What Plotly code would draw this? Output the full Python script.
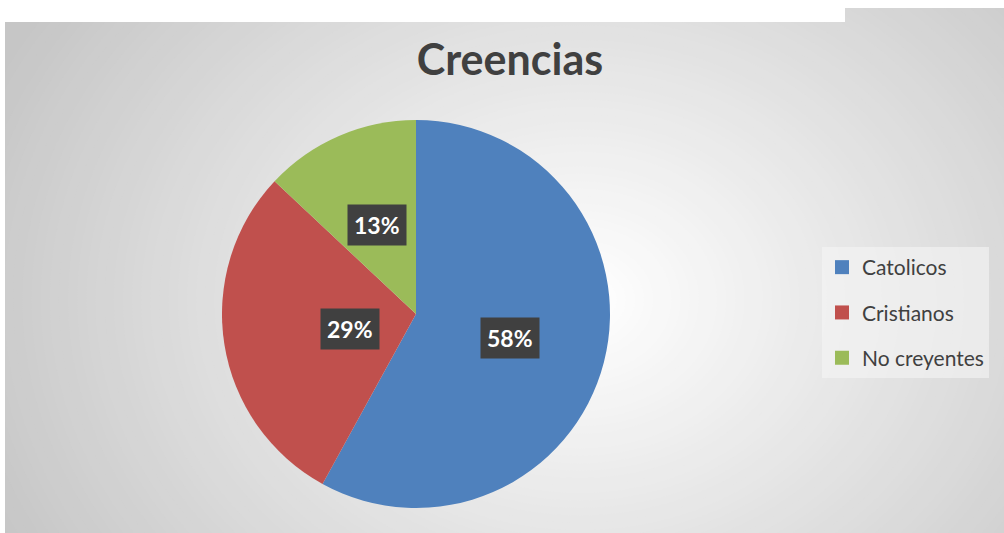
import math
import plotly.graph_objects as go

labels = ["Catolicos", "Cristianos", "No creyentes"]
values = [58, 29, 13]
colors = ["#4F81BD", "#C0504D", "#9BBB59"]

W, H = 1004, 533
# pie placement in pixels
cx_px, cy_px, r_px = 416, 314, 194

fig = go.Figure()

fig.add_trace(go.Pie(
    labels=labels, values=values, sort=False, direction="clockwise", rotation=0,
    marker=dict(colors=colors, line=dict(width=0)),
    textinfo="none", hoverinfo="label+percent", showlegend=False,
    domain=dict(x=[(cx_px - r_px) / W, (cx_px + r_px) / W],
                y=[(H - cy_px - r_px) / H, (H - cy_px + r_px) / H])
))

# legend entries drawn as square markers so spacing can match
for lab, col in zip(labels, colors):
    fig.add_trace(go.Scatter(x=[None], y=[None], mode="markers", name=lab,
                             legendgroup=lab,
                             marker=dict(symbol="square", size=14, color=col)))

# percentage labels in dark boxes, placed at the middle of each slice
total = sum(values)
cum = 0
anns = []
for v in values:
    mid = (cum + v / 2) / total * 2 * math.pi
    cum += v
    px = cx_px + 0.5 * r_px * math.sin(mid)
    py = cy_px - 0.5 * r_px * math.cos(mid)
    anns.append(dict(x=px / W, y=(H - py) / H, xref="paper", yref="paper",
                     text="<b>%d%%</b>" % round(v / total * 100), showarrow=False,
                     font=dict(family="Lato", size=23, color="white"),
                     bgcolor="#404040", borderpad=6))

# radial gradient background
shapes = [dict(type="rect", xref="paper", yref="paper", x0=5 / W, x1=1, y0=0, y1=(H - 22) / H,
               fillcolor="#c6c6c6", line=dict(width=0), layer="below"),
          dict(type="rect", xref="paper", yref="paper", x0=845 / W, x1=1, y0=(H - 22) / H, y1=(H - 8) / H,
               fillcolor="#c6c6c6", line=dict(width=0), layer="below")]
gx, gy = 580, 300
steps = 70
for i in range(steps):
    f = 1 - i / steps
    rx, ry = 640 * f, 520 * f
    g = int(round(198 + (255 - 198) * (i + 1) / steps))
    shapes.append(dict(type="circle", xref="paper", yref="paper",
                       x0=(gx - rx) / W, x1=(gx + rx) / W,
                       y0=(H - gy - ry) / H, y1=(H - gy + ry) / H,
                       fillcolor="rgb(%d,%d,%d)" % (g, g, g), line=dict(width=0), layer="below"))
# white strips outside the chart area
shapes.append(dict(type="rect", xref="paper", yref="paper", x0=-0.1, x1=5 / W, y0=-0.1, y1=1.1,
                   fillcolor="white", line=dict(width=0), layer="below"))
shapes.append(dict(type="rect", xref="paper", yref="paper", x0=-0.1, x1=845 / W, y0=(H - 22) / H, y1=1.1,
                   fillcolor="white", line=dict(width=0), layer="below"))
shapes.append(dict(type="rect", xref="paper", yref="paper", x0=845 / W, x1=1.1, y0=(H - 8) / H, y1=1.1,
                   fillcolor="white", line=dict(width=0), layer="below"))
shapes.append(dict(type="rect", xref="paper", yref="paper", x0=1, x1=1.1, y0=-0.1, y1=1.1,
                   fillcolor="white", line=dict(width=0), layer="below"))

fig.update_layout(
    width=W, height=H, margin=dict(l=0, r=0, t=0, b=0),
    paper_bgcolor="white", plot_bgcolor="rgba(0,0,0,0)",
    title=dict(text="<b>Creencias</b>", x=510 / W, xanchor="center", y=(H - 60) / H, yanchor="middle",
               font=dict(family="Lato", size=43, color="#404040")),
    legend=dict(x=822 / W, y=(H - 247) / H, xanchor="left", yanchor="top",
                bgcolor="rgba(245,245,245,0.6)", font=dict(family="Lato", size=21, color="#404040"),
                tracegroupgap=15, itemclick=False),
    annotations=anns, shapes=shapes,
    xaxis=dict(visible=False), yaxis=dict(visible=False),
)

fig.write_html("out.html", config={"displayModeBar": False},
               post_script="document.body.style.margin='0';")
